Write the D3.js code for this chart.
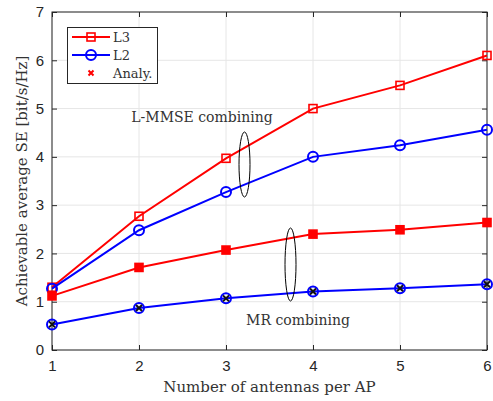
<!DOCTYPE html>
<html><head><meta charset="utf-8">
<script src="https://cdn.jsdelivr.net/npm/d3@7"></script>
<style>body{margin:0;background:#fff}svg{display:block}</style>
</head><body>
<svg id="c" width="493" height="401"></svg>
<script>
const antennas = [1, 2, 3, 4, 5, 6];
const xTicks = [1, 2, 3, 4, 5, 6];
const yTicks = [0, 1, 2, 3, 4, 5, 6, 7];
const L3_LMMSE = [1.30, 2.77, 3.97, 5.00, 5.48, 6.10];
const L2_LMMSE = [1.27, 2.48, 3.27, 4.00, 4.24, 4.56];
const L3_MR = [1.12, 1.71, 2.07, 2.40, 2.49, 2.64];
const L2_MR = [0.53, 0.87, 1.07, 1.21, 1.28, 1.36];
const legendLabels = ["L3", "L2", "Analy."];

const svg = d3.select("#c");
const W = 493, H = 401;
const m = {l: 52, r: 6, t: 12, b: 51};
const x = d3.scaleLinear().domain([1, 6]).range([m.l, W - m.r]);
const y = d3.scaleLinear().domain([0, 7]).range([H - m.b, m.t]);

// grid
svg.append("g").selectAll("line").data(xTicks).join("line")
  .attr("x1", d => x(d)).attr("x2", d => x(d)).attr("y1", y(0)).attr("y2", y(7))
  .attr("stroke", "#e6e6e6").attr("stroke-width", 1);
svg.append("g").selectAll("line").data(yTicks).join("line")
  .attr("y1", d => y(d)).attr("y2", d => y(d)).attr("x1", x(1)).attr("x2", x(6))
  .attr("stroke", "#e6e6e6").attr("stroke-width", 1);

// axes
const fontSans = "'Liberation Sans', Arial, sans-serif";
const fontSerif = "'DejaVu Serif', 'Liberation Serif', serif";
const xa = svg.append("g").attr("transform", `translate(0,${y(0)})`)
  .call(d3.axisBottom(x).tickValues(xTicks).tickFormat(d3.format("d")).tickSizeInner(-5).tickSizeOuter(0).tickPadding(10));
const ya = svg.append("g").attr("transform", `translate(${x(1)},0)`)
  .call(d3.axisLeft(y).tickValues(yTicks).tickFormat(d3.format("d")).tickSizeInner(-5).tickSizeOuter(0).tickPadding(8));
const xt = svg.append("g").attr("transform", `translate(0,${y(7)})`)
  .call(d3.axisTop(x).tickValues(xTicks).tickFormat("").tickSizeInner(-5).tickSizeOuter(0));
const yr = svg.append("g").attr("transform", `translate(${x(6)},0)`)
  .call(d3.axisRight(y).tickValues(yTicks).tickFormat("").tickSizeInner(-5).tickSizeOuter(0));
[xa, ya, xt, yr].forEach(g => {
  g.select(".domain").remove();
  g.selectAll("line").attr("stroke", "#262626");
  g.selectAll("text").attr("font-family", fontSans).attr("font-size", 15).attr("fill", "#262626");
});
svg.append("rect").attr("x", x(1)).attr("y", y(7)).attr("width", x(6) - x(1)).attr("height", y(0) - y(7))
  .attr("fill", "none").attr("stroke", "#262626").attr("stroke-width", 1);

// labels
svg.append("text").attr("x", (x(1) + x(6)) / 2).attr("y", 392).attr("text-anchor", "middle")
  .attr("font-family", fontSerif).attr("font-size", 15).attr("fill", "#333").text("Number of antennas per AP");
svg.append("text").attr("transform", `translate(27,${(y(0) + y(7)) / 2}) rotate(-90)`).attr("text-anchor", "middle")
  .attr("font-family", fontSerif).attr("font-size", 15).attr("fill", "#333").text("Achievable average SE [bit/s/Hz]");

const line = d3.line().x((d, i) => x(antennas[i])).y(d => y(d));
const RED = "#ff0000", BLUE = "#0000ff";

function drawSeries(vals, color, marker, analy, analyColor) {
  const g = svg.append("g");
  g.append("path").datum(vals).attr("d", line).attr("fill", "none").attr("stroke", color).attr("stroke-width", 2);
  vals.forEach((v, i) => {
    const cx = x(antennas[i]), cy = y(v);
    if (marker === "s") {
      g.append("rect").attr("x", cx - 4).attr("y", cy - 4).attr("width", 8).attr("height", 8)
        .attr("fill", analy ? RED : "none").attr("stroke", color).attr("stroke-width", 1.6);
    } else {
      g.append("circle").attr("cx", cx).attr("cy", cy).attr("r", 5).attr("fill", "none")
        .attr("stroke", color).attr("stroke-width", 2);
    }
    if (analy) {
      const s = 3;
      g.append("path").attr("d", `M${cx - s},${cy - s}L${cx + s},${cy + s}M${cx - s},${cy + s}L${cx + s},${cy - s}`)
        .attr("stroke", analyColor).attr("stroke-width", 2);
    }
  });
}
drawSeries(L3_LMMSE, RED, "s", false);
drawSeries(L2_LMMSE, BLUE, "o", false);
drawSeries(L3_MR, RED, "s", true, RED);
drawSeries(L2_MR, BLUE, "o", true, "#111");

// annotations
svg.append("text").attr("x", 202).attr("y", 122).attr("text-anchor", "middle")
  .attr("font-family", fontSerif).attr("font-size", 14).attr("fill", "#333").text("L-MMSE combining");
svg.append("text").attr("x", 298).attr("y", 325).attr("text-anchor", "middle")
  .attr("font-family", fontSerif).attr("font-size", 14).attr("fill", "#333").text("MR combining");
svg.append("ellipse").attr("cx", 244.5).attr("cy", 164.5).attr("rx", 5.5).attr("ry", 32.5)
  .attr("fill", "none").attr("stroke", "#000").attr("stroke-width", 1);
svg.append("ellipse").attr("cx", 290.5).attr("cy", 264.5).attr("rx", 5.5).attr("ry", 36.5)
  .attr("fill", "none").attr("stroke", "#000").attr("stroke-width", 1);

// legend
const lg = svg.append("g");
lg.append("rect").attr("x", 67.5).attr("y", 27.5).attr("width", 90).attr("height", 56)
  .attr("fill", "#fff").attr("stroke", "#262626").attr("stroke-width", 1);
const rows = [37, 55, 73];
legendLabels.forEach((lab, i) => {
  const yy = rows[i];
  if (i === 0) {
    lg.append("line").attr("x1", 72).attr("x2", 110).attr("y1", yy).attr("y2", yy).attr("stroke", RED).attr("stroke-width", 2);
    lg.append("rect").attr("x", 87).attr("y", yy - 4).attr("width", 8).attr("height", 8).attr("fill", "none").attr("stroke", RED).attr("stroke-width", 1.6);
  } else if (i === 1) {
    lg.append("line").attr("x1", 72).attr("x2", 110).attr("y1", yy).attr("y2", yy).attr("stroke", BLUE).attr("stroke-width", 2);
    lg.append("circle").attr("cx", 91).attr("cy", yy).attr("r", 5).attr("fill", "none").attr("stroke", BLUE).attr("stroke-width", 2);
  } else {
    const s = 2.5, cx = 91;
    lg.append("path").attr("d", `M${cx - s},${yy - s}L${cx + s},${yy + s}M${cx - s},${yy + s}L${cx + s},${yy - s}`)
      .attr("stroke", RED).attr("stroke-width", 2);
  }
  lg.append("text").attr("x", 113).attr("y", yy + 5).attr("font-family", fontSerif).attr("font-size", 13)
    .attr("fill", "#333").text(lab);
});
</script>
</body></html>
